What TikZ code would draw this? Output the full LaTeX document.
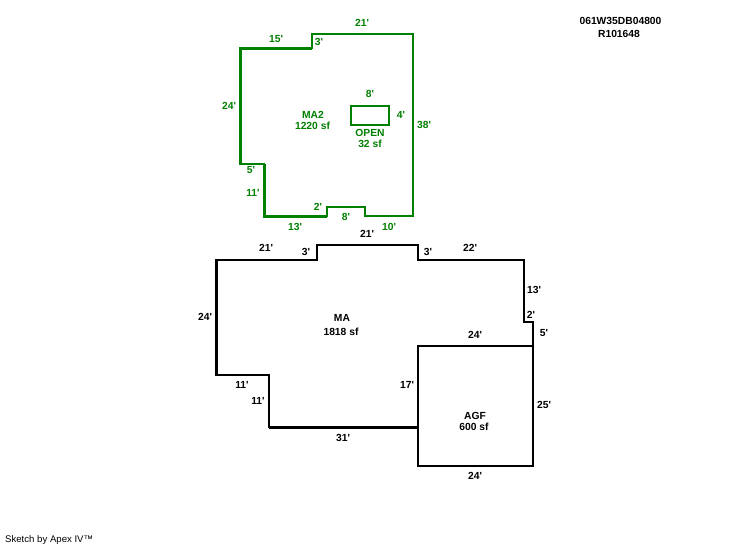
\documentclass[tikz,border=0pt]{standalone}
\usepackage{fontspec}
\setmainfont[Ligatures=TeXOff]{Liberation Sans}
\definecolor{sketchgreen}{RGB}{0,128,0}
\tikzset{
  wall/.style={line width=2.6pt,line join=miter,line cap=rect},
  thickwall/.style={line width=3pt,line cap=butt,line join=miter},
  lbl/.style={inner sep=0pt,font=\bfseries\fontsize{10.3}{11}\selectfont,anchor=center},
  glbl/.style={lbl,text=sketchgreen},
  blbl/.style={lbl,text=black},
  note/.style={inner sep=0pt,font=\fontsize{9.6}{10}\selectfont,anchor=west}
}
\begin{document}
\begin{tikzpicture}[x=1pt,y=-1pt]
\useasboundingbox (0,0) rectangle (746,547);
\fill[white] (0,0) rectangle (746,547);
% MA2
\draw[wall,sketchgreen] (312,34) -- (413,34) -- (413,216) -- (365,216) -- (365,207) -- (327,207) -- (327,216) -- (264,216) -- (264,164) -- (240,164) -- (240,48) -- (312,48) -- cycle;
\draw[thickwall,sketchgreen] (240,164) -- (240,48) -- (312,48);
\draw[thickwall,sketchgreen] (264,164) -- (264,216) -- (327,216);
\draw[wall,sketchgreen] (351,106) rectangle (389,125);
% MA
\draw[wall] (317,245) -- (418,245) -- (418,260) -- (524,260) -- (524,322) -- (533,322) -- (533,466) -- (418,466) -- (418,346) -- (533,346);
\draw[wall] (418,427) -- (269,427) -- (269,375) -- (216,375) -- (216,260) -- (317,260) -- (317,245);
\draw[thickwall] (216,375) -- (216,260);
\draw[thickwall] (269,427) -- (418,427);
% green labels
\node[glbl] (g1) at (362,22.5) {21'};
\node[glbl] (g2) at (276,39) {15'};
\node[glbl] (g3) at (319,42) {3'};
\node[glbl] (g4) at (229,106) {24'};
\node[glbl] (g5) at (313,115) {MA2};
\node[glbl] (g6) at (312.5,126) {1220 sf};
\node[glbl] (g7) at (370,94) {8'};
\node[glbl] (g8) at (401,115) {4'};
\node[glbl] (g9) at (370,133) {OPEN};
\node[glbl] (g10) at (370,144) {32 sf};
\node[glbl] (g11) at (424,125) {38'};
\node[glbl] (g12) at (251,170) {5'};
\node[glbl] (g13) at (253,193) {11'};
\node[glbl] (g14) at (318,207) {2'};
\node[glbl] (g15) at (346,217) {8'};
\node[glbl] (g16) at (295,227) {13'};
\node[glbl] (g17) at (389,227) {10'};
% black labels
\node[blbl] (b1) at (367,234) {21'};
\node[blbl] (b2) at (266,248) {21'};
\node[blbl] (b3) at (306,252) {3'};
\node[blbl] (b4) at (428,252) {3'};
\node[blbl] (b5) at (470,248) {22'};
\node[blbl] (b6) at (534,290) {13'};
\node[blbl] (b7) at (531,315) {2'};
\node[blbl] (b8) at (544,333) {5'};
\node[blbl] (b9) at (475,335) {24'};
\node[blbl] (b10) at (342,318) {MA};
\node[blbl] (b11) at (341,332) {1818 sf};
\node[blbl] (b12) at (205,317) {24'};
\node[blbl] (b13) at (242,385) {11'};
\node[blbl] (b14) at (258,401) {11'};
\node[blbl] (b15) at (407,385) {17'};
\node[blbl] (b16) at (343,438) {31'};
\node[blbl] (b17) at (475,416) {AGF};
\node[blbl] (b18) at (474,427) {600 sf};
\node[blbl] (b19) at (544,405) {25'};
\node[blbl] (b20) at (475,476) {24'};
\node[blbl] (h1) at (620.5,21) {061W35DB04800};
\node[blbl] (h2) at (619,34) {R101648};
\node[note] (s1) at (5,540.5) {Sketch by Apex IV™};
\end{tikzpicture}
\end{document}
